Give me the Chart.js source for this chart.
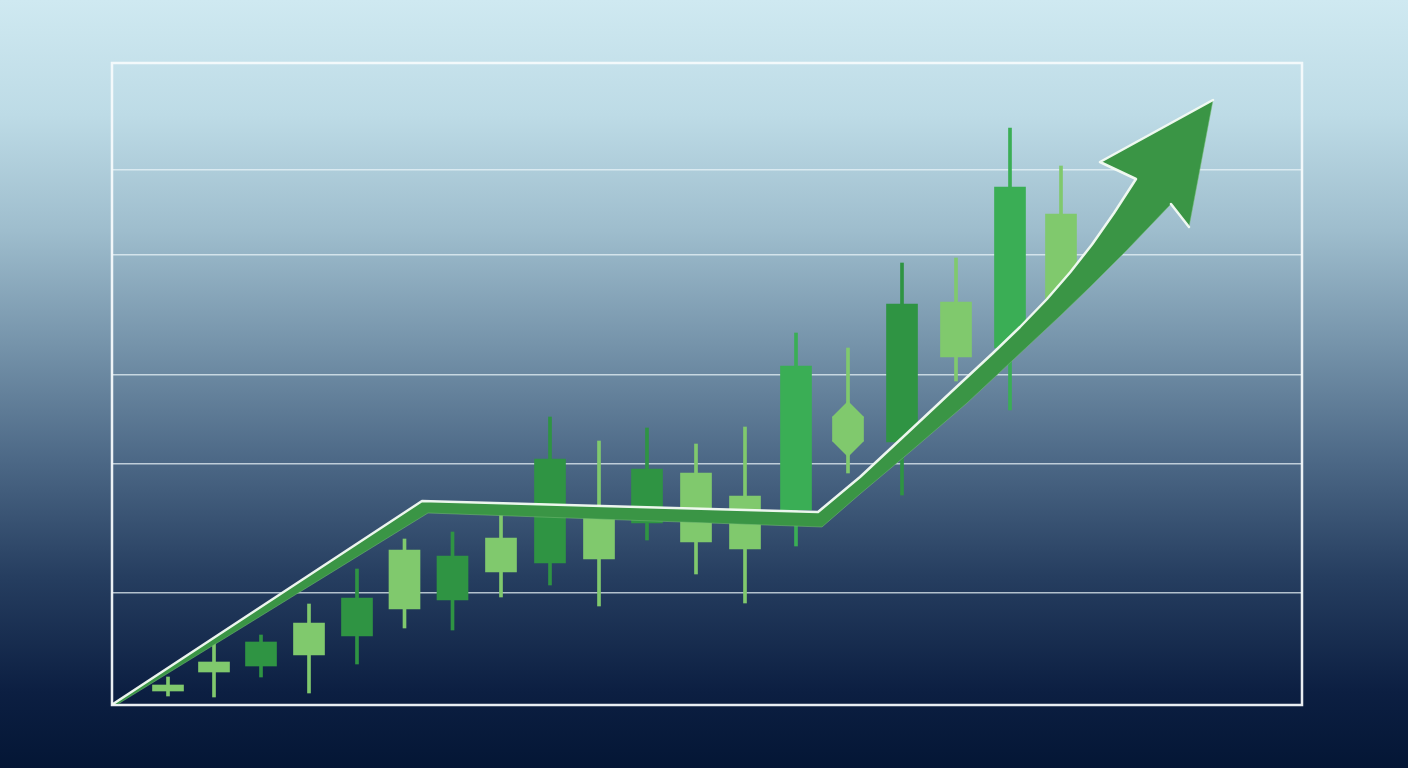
<!DOCTYPE html>
<html lang="en">
<head>
<meta charset="UTF-8">
<title>Uptrend candles</title>
<script src="https://cdn.jsdelivr.net/npm/chart.js@4"></script>
<style>
  html, body { margin: 0; padding: 0; }
  body {
    width: 1408px;
    height: 768px;
    overflow: hidden;
    background: linear-gradient(to bottom,
      #cfe9f1 0%, #bddbe6 15%, #9ebdcd 30%, #7593aa 45%,
      #4c6886 60%, #263e60 75%, #0c1f42 90%, #041635 100%);
  }
  #chart { display: block; }
</style>
</head>
<body>
<canvas id="chart" width="1408" height="768"></canvas>
<script>
// candles: session position and prices
const sessions = [5.6, 10.2, 14.9, 19.7, 24.5, 29.25, 34.05, 38.9, 43.8, 48.7, 53.5, 58.4, 63.3, 68.4, 73.6, 79.0, 84.4, 89.8, 94.9];
const opens  = [2.8, 6.6, 12.6, 10.0, 21.4, 19.2, 29.8, 26.6, 49.2, 29.2, 47.2, 32.6, 31.2, 39.0, 52.8, 80.2, 69.6, 71.4, 81.0];
const highs  = [5.6, 12.4, 14.0, 20.2, 27.2, 33.2, 34.6, 38.6, 57.6, 52.8, 55.4, 52.2, 55.6, 74.4, 71.4, 88.4, 89.4, 115.4, 107.8];
const lows   = [1.8, 1.6, 5.6, 2.4, 8.2, 15.4, 15.0, 21.6, 24.0, 19.8, 33.0, 26.2, 20.4, 31.8, 46.4, 42.0, 64.8, 59.0, 80.0];
const closes = [4.0, 8.6, 7.8, 16.4, 13.8, 31.0, 21.0, 33.4, 28.4, 38.4, 36.4, 46.4, 41.8, 67.8, 57.6, 52.6, 80.6, 103.6, 98.2];
const tone   = ['light', 'light', 'dark', 'light', 'dark', 'light', 'dark', 'light', 'dark', 'light',
                'dark', 'light', 'light', 'mid', 'light', 'dark', 'light', 'mid', 'light'];
const hexCandles = [14];

// horizontal guide levels
const gridLevels = [22.4, 48.2, 66, 90, 107];

// trend arrow outline: upper edge, head, lower edge
const arrowUpperX = [0.1, 31.0, 70.6, 74.8, 79.1, 83.8, 88.1, 90.8, 93.5, 95.8, 98.0, 100.2, 102.4];
const arrowUpperY = [0.2, 40.8, 38.6, 45.6, 53.6, 62.4, 70.4, 75.6, 81.2, 86.5, 92.1, 98.4, 105.2];
const arrowHeadX  = [98.8, 110.1, 107.7, 105.9];
const arrowHeadY  = [108.6, 121.0, 95.6, 100.2];
const arrowLowerX = [101.5, 97.8, 94.8, 90.1, 85.5, 79.8, 74.8, 71.0, 31.6, 0.6];
const arrowLowerY = [91.0, 83.6, 77.8, 69.0, 60.4, 50.6, 42.2, 35.6, 38.4, 0.2];

const palette = { light: '#80c96d', dark: '#2f9443', mid: '#3aae55' };
const arrowGreen = '#3a9545';

const pts = (xs, ys) => xs.map((x, i) => ({ x: x, y: ys[i] }));
const outline = pts(arrowUpperX, arrowUpperY)
  .concat(pts(arrowHeadX, arrowHeadY))
  .concat(pts(arrowLowerX, arrowLowerY));
// white highlight along the top side of the arrow
const highlight = pts(arrowUpperX, arrowUpperY)
  .concat(pts(arrowHeadX.slice(0, 2), arrowHeadY.slice(0, 2)))
  .concat([{ x: arrowHeadX[1], y: null }])
  .concat(pts(arrowHeadX.slice(2), arrowHeadY.slice(2)));

const candleColor = ctx => palette[tone[ctx.dataIndex]];

const bodies = sessions.map((x, i) => ({ x: x, y: [opens[i], closes[i]] }));
const wicks = sessions.map((x, i) => ({ x: x, y: [lows[i], highs[i]] }));
const hexCaps = [];
hexCandles.forEach(i => {
  hexCaps.push({ x: sessions[i], y: opens[i] });
  hexCaps.push({ x: sessions[i], y: closes[i] });
});

const framePlugin = {
  id: 'frame',
  beforeDatasetsDraw(chart) {
    const a = chart.chartArea;
    const ctx = chart.ctx;
    ctx.save();
    ctx.strokeStyle = 'rgba(246,250,252,0.95)';
    ctx.lineWidth = 2.5;
    ctx.strokeRect(a.left, a.top, a.right - a.left, a.bottom - a.top);
    ctx.restore();
  }
};

new Chart(document.getElementById('chart'), {
  type: 'bar',
  data: {
    datasets: [
      {
        type: 'line',
        label: 'highlight',
        data: highlight,
        order: 0,
        borderColor: 'rgba(246,252,246,0.95)',
        borderWidth: 2.5,
        borderJoinStyle: 'round',
        borderCapStyle: 'round',
        pointRadius: 0,
        tension: 0,
        fill: false
      },
      {
        type: 'line',
        label: 'trend',
        data: outline,
        order: 0.5,
        backgroundColor: arrowGreen,
        borderColor: 'rgba(120,190,120,0.5)',
        borderWidth: 1,
        pointRadius: 0,
        tension: 0,
        fill: 'shape'
      },
      {
        type: 'line',
        label: 'caps',
        data: hexCaps,
        order: 1,
        showLine: false,
        pointStyle: 'rectRot',
        pointRadius: 16,
        pointBorderWidth: 0,
        pointBackgroundColor: palette.light
      },
      {
        label: 'bodies',
        data: bodies,
        order: 1.5,
        grouped: false,
        barThickness: 31,
        backgroundColor: candleColor,
        borderWidth: 0
      },
      {
        label: 'wicks',
        data: wicks,
        order: 2,
        grouped: false,
        barThickness: 3,
        backgroundColor: candleColor,
        borderWidth: 0
      }
    ]
  },
  options: {
    responsive: false,
    animation: false,
    layout: { padding: { left: 112, right: 106, top: 63, bottom: 63 } },
    plugins: { legend: { display: false }, tooltip: { enabled: false } },
    scales: {
      x: {
        type: 'linear',
        min: 0,
        max: 119,
        offset: false,
        grid: { display: false, offset: false, drawTicks: false },
        border: { display: false },
        ticks: { display: false }
      },
      y: {
        type: 'linear',
        min: 0,
        max: 128.4,
        afterBuildTicks: scale => { scale.ticks = gridLevels.map(v => ({ value: v })); },
        grid: { color: 'rgba(236,245,249,0.72)', lineWidth: 1.5, drawTicks: false },
        border: { display: false },
        ticks: { display: false }
      }
    }
  },
  plugins: [framePlugin]
});
</script>
</body>
</html>
